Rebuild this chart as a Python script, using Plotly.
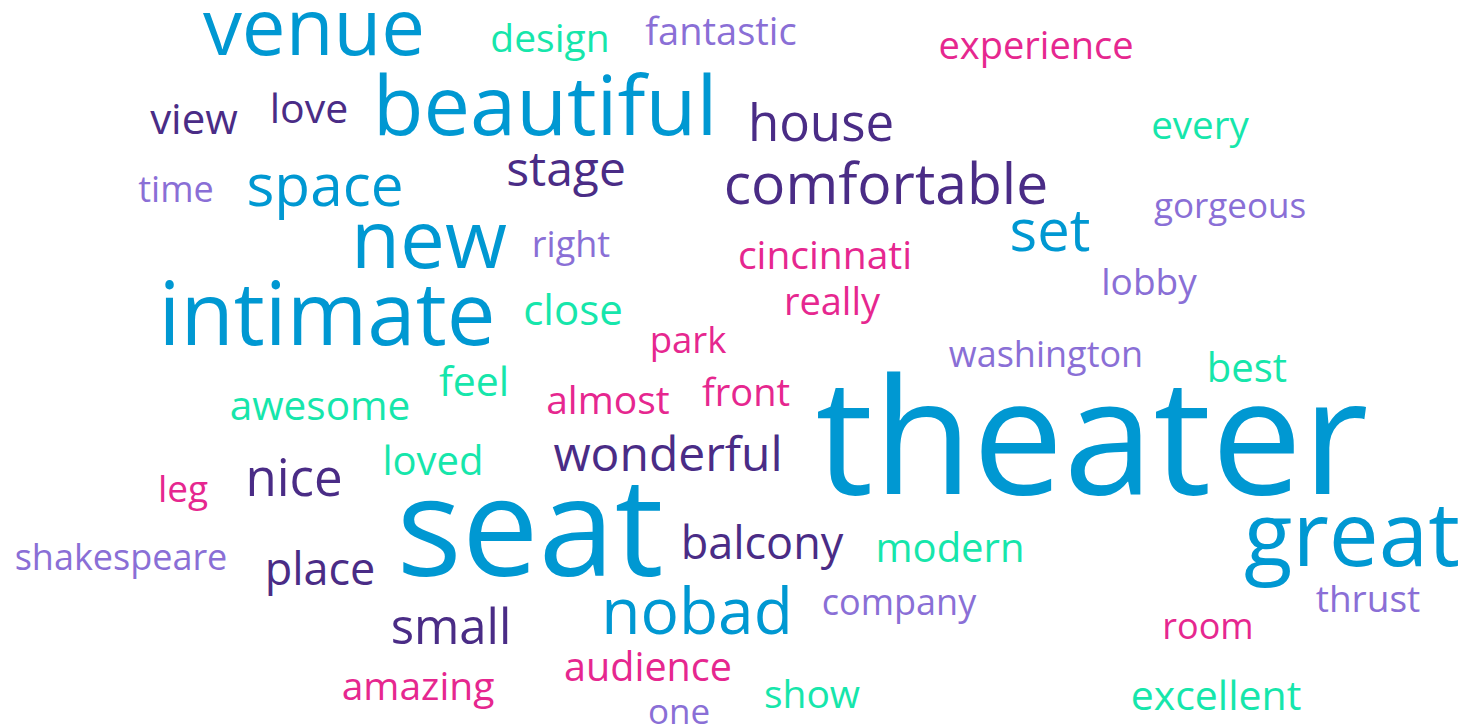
import plotly.graph_objects as go

# ---- data: words of the cloud ----
WORDS = ["venue", "design", "fantastic", "experience", "beautiful", "view", "love", "house",
         "every", "stage", "space", "time", "comfortable", "gorgeous", "set", "new", "right",
         "cincinnati", "lobby", "intimate", "close", "really", "park", "washington", "best",
         "feel", "awesome", "almost", "front", "theater", "wonderful", "nice", "loved", "leg",
         "seat", "great", "balcony", "modern", "shakespeare", "place", "nobad", "company",
         "thrust", "small", "room", "audience", "amazing", "show", "excellent", "one"]

# colour group of each word (0 blue, 1 dark purple, 2 light purple, 3 green, 4 pink)
GROUP = [0, 3, 2, 4, 0, 1, 1, 1,
         3, 1, 0, 2, 1, 2, 0, 0, 2,
         4, 2, 0, 3, 4, 4, 2, 3,
         3, 3, 4, 4, 0, 1, 1, 3, 4,
         0, 0, 1, 3, 2, 1, 0, 2,
         2, 1, 4, 4, 4, 3, 3, 2]

# ---- layout of the cloud (centre x, baseline y in pixels; font size) ----
X_CENTER = [314, 550, 721, 1036, 545, 194, 309, 821,
            1200, 566, 325, 176, 886, 1230, 1050, 429, 571,
            825, 1149, 327, 573, 832, 688, 1046, 1247,
            474, 320, 608, 746, 1092, 668, 294, 433, 183,
            530, 1352, 762, 950, 121, 320, 697, 899,
            1368, 451, 1208, 648, 418, 812, 1216, 679]
BASELINE = [52, 50, 43, 57, 132, 132, 121, 138,
            137, 184, 203, 200, 201, 216, 248, 265, 255,
            267, 293, 342, 323, 313, 351, 365, 380,
            394, 418, 412, 404, 490, 469, 493, 473, 500,
            573, 563, 557, 560, 568, 583, 631, 613,
            610, 642, 637, 679, 698, 706, 708, 722]
SIZE = [78, 39, 38, 38, 83, 42, 41, 51,
        38.6, 48, 58.5, 36, 57, 35, 58, 80, 36,
        39, 37, 87, 42, 38, 36.5, 36, 40,
        41, 40.5, 39, 38, 162, 48, 51, 40, 37,
        137, 89, 45, 40, 36, 45, 64, 36,
        37, 49, 36, 39.5, 39, 39, 41, 35]

PALETTE = ["#0098d2", "#4a2c86", "#8a6fd6", "#16e6ab", "#e6278f"]

colors = [PALETTE[g] for g in GROUP]
# anchor of "middle" text relative to its baseline, measured for this font
y_anchor = [b - 0.24 * s + 2 for b, s in zip(BASELINE, SIZE)]

fig = go.Figure(go.Scatter(
    x=X_CENTER, y=y_anchor, mode="text", text=WORDS,
    textposition="middle center",
    textfont=dict(family="Open Sans", size=SIZE, color=colors),
    hoverinfo="text", cliponaxis=False,
))

fig.update_layout(
    width=1468, height=725,
    margin=dict(l=0, r=0, t=0, b=0),
    paper_bgcolor="white", plot_bgcolor="white",
    xaxis=dict(range=[0, 1468], visible=False, fixedrange=True),
    yaxis=dict(range=[725, 0], visible=False, fixedrange=True),
    showlegend=False,
)

fig.write_html("out.html", config={"displayModeBar": False},
               post_script="document.body.style.margin='0';")
